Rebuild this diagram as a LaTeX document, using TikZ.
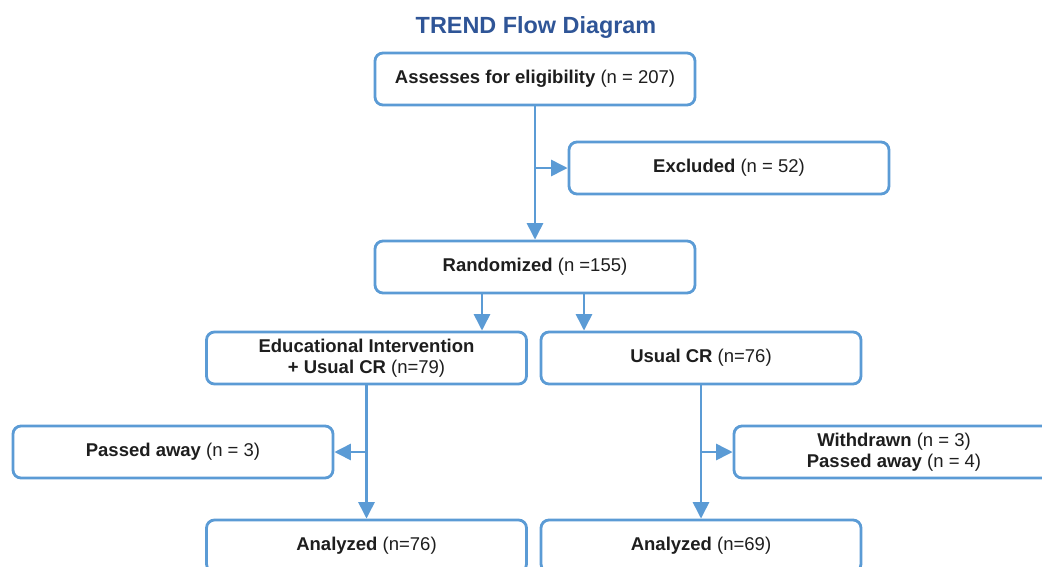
\documentclass[tikz,border=0pt]{standalone}
\usepackage{fontspec}
\setmainfont{Liberation Sans}
\usetikzlibrary{arrows.meta}
\definecolor{linkblue}{HTML}{5B9BD5}
\definecolor{titleblue}{HTML}{2F5597}
\definecolor{inktext}{HTML}{1E1E1E}
\tikzset{
  flowbox/.style={draw=linkblue, line width=2.8pt, rounded corners=8pt, fill=white,
    minimum width=320pt, minimum height=52pt, inner sep=0pt, align=center,
    text=inktext, font=\fontsize{18.5}{21.5}\selectfont},
  arr/.style={draw=linkblue, line width=2.8pt,
    -{Triangle[length=16.5pt,width=16pt]}},
}
\begin{document}
\begin{tikzpicture}[x=1pt,y=-1pt]
  \useasboundingbox (0,0) rectangle (1042,566);
  \clip (0,0) rectangle (1042,566);
  \fill[white] (0,0) rectangle (1042,566);

  % title
  \node[text=titleblue, font=\bfseries\fontsize{23.4}{27}\selectfont] (title) at (536,27) {TREND Flow Diagram};

  % boxes
  \node[flowbox] (assess) at (535,79) {\textbf{Assesses for eligibility} (n = 207)};
  \node[flowbox] (excl) at (729,168) {\textbf{Excluded} (n = 52)};
  \node[flowbox] (rand) at (535,267) {\textbf{Randomized} (n =155)};
  \node[flowbox] (edu) at (366.5,358) {\textbf{Educational Intervention}\\\textbf{+ Usual CR} (n=79)};
  \node[flowbox] (usual) at (701,358) {\textbf{Usual CR} (n=76)};
  \node[flowbox] (paEdu) at (173,452) {\textbf{Passed away} (n = 3)};
  \node[flowbox] (wd) at (894,452) {\textbf{Withdrawn} (n = 3)\\\textbf{Passed away} (n = 4)};
  \node[flowbox] (anEdu) at (366.5,546) {\textbf{Analyzed} (n=76)};
  \node[flowbox] (anUsual) at (701,546) {\textbf{Analyzed} (n=69)};

  % junction points on the vertical trunks
  \coordinate (j1) at (535,168);
  \coordinate (j2) at (366.5,452);
  \coordinate (j3) at (701,452);

  % connectors
  \draw[arr] (assess.south) -- (rand.north);
  \draw[arr] (j1) -- (excl.west);
  \draw[arr] ([xshift=-53pt]rand.south) -- ([xshift=-53pt]rand.south |- edu.north);
  \draw[arr] ([xshift=49pt]rand.south) -- ([xshift=49pt]rand.south |- usual.north);
  \draw[arr] (edu.south) -- (anEdu.north);
  \draw[arr] (j2) -- (paEdu.east);
  \draw[arr] (usual.south) -- (anUsual.north);
  \draw[arr] (j3) -- (wd.west);
\end{tikzpicture}
\end{document}
